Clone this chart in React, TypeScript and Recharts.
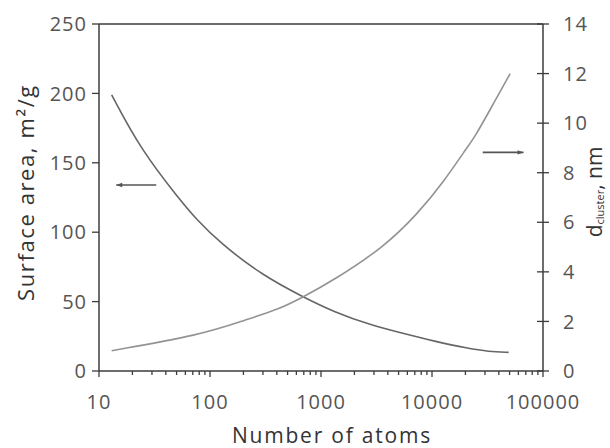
import React from 'react';
import { ComposedChart, Line, XAxis, YAxis, ReferenceLine } from 'recharts';

// Surface area curve (left axis)
const saAtoms = [13, 24, 54, 74, 124, 296, 683, 1312, 2834, 5290, 10540, 21280, 32300, 49000];
const saValues = [199, 159, 123, 110, 92, 69, 53.5, 42.5, 33, 27.4, 21.4, 16.2, 14.0, 13.4];

// Cluster diameter curve (right axis)
const dAtoms = [13, 82, 209, 420, 660, 1312, 3718, 7500, 13060, 19800, 24400, 34500, 50600];
const dValues = [0.82, 1.45, 2.06, 2.5, 2.94, 3.67, 5.01, 6.36, 7.7, 8.9, 9.45, 10.66, 12.0];

// Ticks
const xMajorTicks = [10, 100, 1000, 10000, 100000];
const xMinorTicks = [
  20, 30, 40, 50, 60, 70, 80, 90,
  200, 300, 400, 500, 600, 700, 800, 900,
  2000, 3000, 4000, 5000, 6000, 7000, 8000, 9000,
  20000, 30000, 40000, 50000, 60000, 70000, 80000, 90000,
];
const leftTicks = [0, 50, 100, 150, 200, 250];
const rightTicks = [0, 2, 4, 6, 8, 10, 12, 14];

// Annotation arrows
const saArrowAtoms = [14.3, 32.8];
const saArrowValue = 134;
const dArrowAtoms = [28650, 66800];
const dArrowValue = 8.82;

// Texts
const xTitle = 'Number of atoms';
const leftTitle = 'Surface area, m²/g';
const rightTitleMain = 'd';
const rightTitleSub = 'cluster';
const rightTitleEnd = ', nm';

const saData = saAtoms.map((n, i) => ({ n, sa: saValues[i] }));
const dData = dAtoms.map((n, i) => ({ n, d: dValues[i] }));
const allXTicks = [...xMajorTicks, ...xMinorTicks].sort((a, b) => a - b);

const FONT = "'Open Sans', 'DejaVu Sans', sans-serif";
const AXIS = '#3c3c3c';
const TICKTXT = '#555';

const XTick = (props: any) => {
  const { x, y, payload } = props;
  const v = payload.value;
  const major = xMajorTicks.includes(v);
  return (
    <g>
      <line x1={x} x2={x} y1={y} y2={y + (major ? 6 : 4)} stroke={AXIS} strokeWidth={1.3} />
      {major && (
        <text x={x} y={y + 38} textAnchor="middle" fill={TICKTXT} fontSize={20} fontFamily={FONT} letterSpacing={1}>
          {String(v)}
        </text>
      )}
    </g>
  );
};

const RightTick = (props: any) => {
  const { x, y, payload } = props;
  return (
    <g>
      <line x1={x - 6} x2={x + 6} y1={y} y2={y} stroke={AXIS} strokeWidth={1.3} />
      <text x={x + 20} y={y} dy="0.36em" textAnchor="start" fill={TICKTXT} fontSize={20} fontFamily={FONT} letterSpacing={1}>
        {String(payload.value)}
      </text>
    </g>
  );
};

const LeftTitle = (props: any) => {
  const vb = props.viewBox || { x: 0, y: 24, width: 99, height: 347 };
  const cx = vb.x + 25;
  const cy = vb.y + vb.height / 2 - 5;
  return (
    <text
      x={cx}
      y={cy}
      transform={`rotate(-90 ${cx} ${cy})`}
      textAnchor="middle"
      dominantBaseline="central"
      fill="#333"
      fontSize={22}
      fontFamily={FONT}
      letterSpacing={1.6}
    >
      {leftTitle}
    </text>
  );
};

const RightTitle = (props: any) => {
  const vb = props.viewBox || { x: 543, y: 24, width: 67, height: 347 };
  const cx = vb.x + 51;
  const cy = vb.y + 168;
  return (
    <text
      x={cx}
      y={cy}
      transform={`rotate(-90 ${cx} ${cy})`}
      textAnchor="middle"
      dominantBaseline="central"
      fill="#333"
      fontSize={21}
      fontFamily={FONT}
    >
      <tspan>{rightTitleMain}</tspan>
      <tspan fontSize={11} dy={5}>{rightTitleSub}</tspan>
      <tspan dy={-5}>{rightTitleEnd}</tspan>
    </text>
  );
};

const XTitle = (props: any) => {
  const vb = props.viewBox || { x: 99, y: 371, width: 444, height: 77 };
  return (
    <text
      x={vb.x + vb.width / 2 + 11}
      y={vb.y + 72}
      textAnchor="middle"
      fill="#333"
      fontSize={21}
      fontFamily={FONT}
      letterSpacing={1.8}
    >
      {xTitle}
    </text>
  );
};

const arrowShape = (dir: 'left' | 'right') => (props: any) => {
  const { x1, y1, x2, y2 } = props;
  const tipX = dir === 'left' ? Math.min(x1, x2) : Math.max(x1, x2);
  const back = dir === 'left' ? tipX + 6 : tipX - 6;
  return (
    <g>
      <line x1={x1} y1={y1} x2={x2} y2={y2} stroke="#555" strokeWidth={1.6} />
      <polygon points={`${tipX},${y1} ${back},${y1 - 2.2} ${back},${y1 + 2.2}`} fill="#555" />
    </g>
  );
};

export default function App() {
  return (
    <div style={{ position: 'absolute', left: 0, top: 0, width: 610, height: 448, background: '#fff', fontFamily: FONT }}>
      <ComposedChart width={610} height={448} margin={{ top: 24, right: 0, bottom: 0, left: 0 }}>
        <XAxis
          dataKey="n"
          type="number"
          scale="log"
          domain={[10, 100000]}
          allowDataOverflow
          ticks={allXTicks}
          interval={0}
          tick={<XTick />}
          tickLine={false}
          tickSize={0}
          tickMargin={0}
          height={77}
          axisLine={{ stroke: AXIS, strokeWidth: 1.5 }}
          label={<XTitle />}
        />
        <YAxis
          yAxisId="left"
          type="number"
          domain={[0, 250]}
          ticks={leftTicks}
          interval={0}
          width={99}
          tickSize={7}
          tickMargin={5}
          tickLine={{ stroke: AXIS, strokeWidth: 1.3 }}
          axisLine={{ stroke: AXIS, strokeWidth: 1.5 }}
          tick={{ fill: TICKTXT, fontSize: 20, fontFamily: FONT, letterSpacing: 1 }}
          label={<LeftTitle />}
        />
        <YAxis
          yAxisId="right"
          orientation="right"
          type="number"
          domain={[0, 14]}
          ticks={rightTicks}
          interval={0}
          width={67}
          tickSize={0}
          tickMargin={0}
          tickLine={false}
          axisLine={{ stroke: AXIS, strokeWidth: 1.5 }}
          tick={<RightTick />}
          label={<RightTitle />}
        />
        <ReferenceLine yAxisId="left" y={250} stroke={AXIS} strokeWidth={1.5} />
        <ReferenceLine
          yAxisId="left"
          segment={[{ x: saArrowAtoms[0], y: saArrowValue }, { x: saArrowAtoms[1], y: saArrowValue }]}
          shape={arrowShape('left')}
        />
        <ReferenceLine
          yAxisId="right"
          segment={[{ x: dArrowAtoms[0], y: dArrowValue }, { x: dArrowAtoms[1], y: dArrowValue }]}
          shape={arrowShape('right')}
        />
        <Line
          data={saData}
          dataKey="sa"
          yAxisId="left"
          type="basis"
          stroke="#666"
          strokeWidth={1.6}
          dot={false}
          isAnimationActive={false}
        />
        <Line
          data={dData}
          dataKey="d"
          yAxisId="right"
          type="basis"
          stroke="#939393"
          strokeWidth={1.6}
          dot={false}
          isAnimationActive={false}
        />
      </ComposedChart>
    </div>
  );
}
